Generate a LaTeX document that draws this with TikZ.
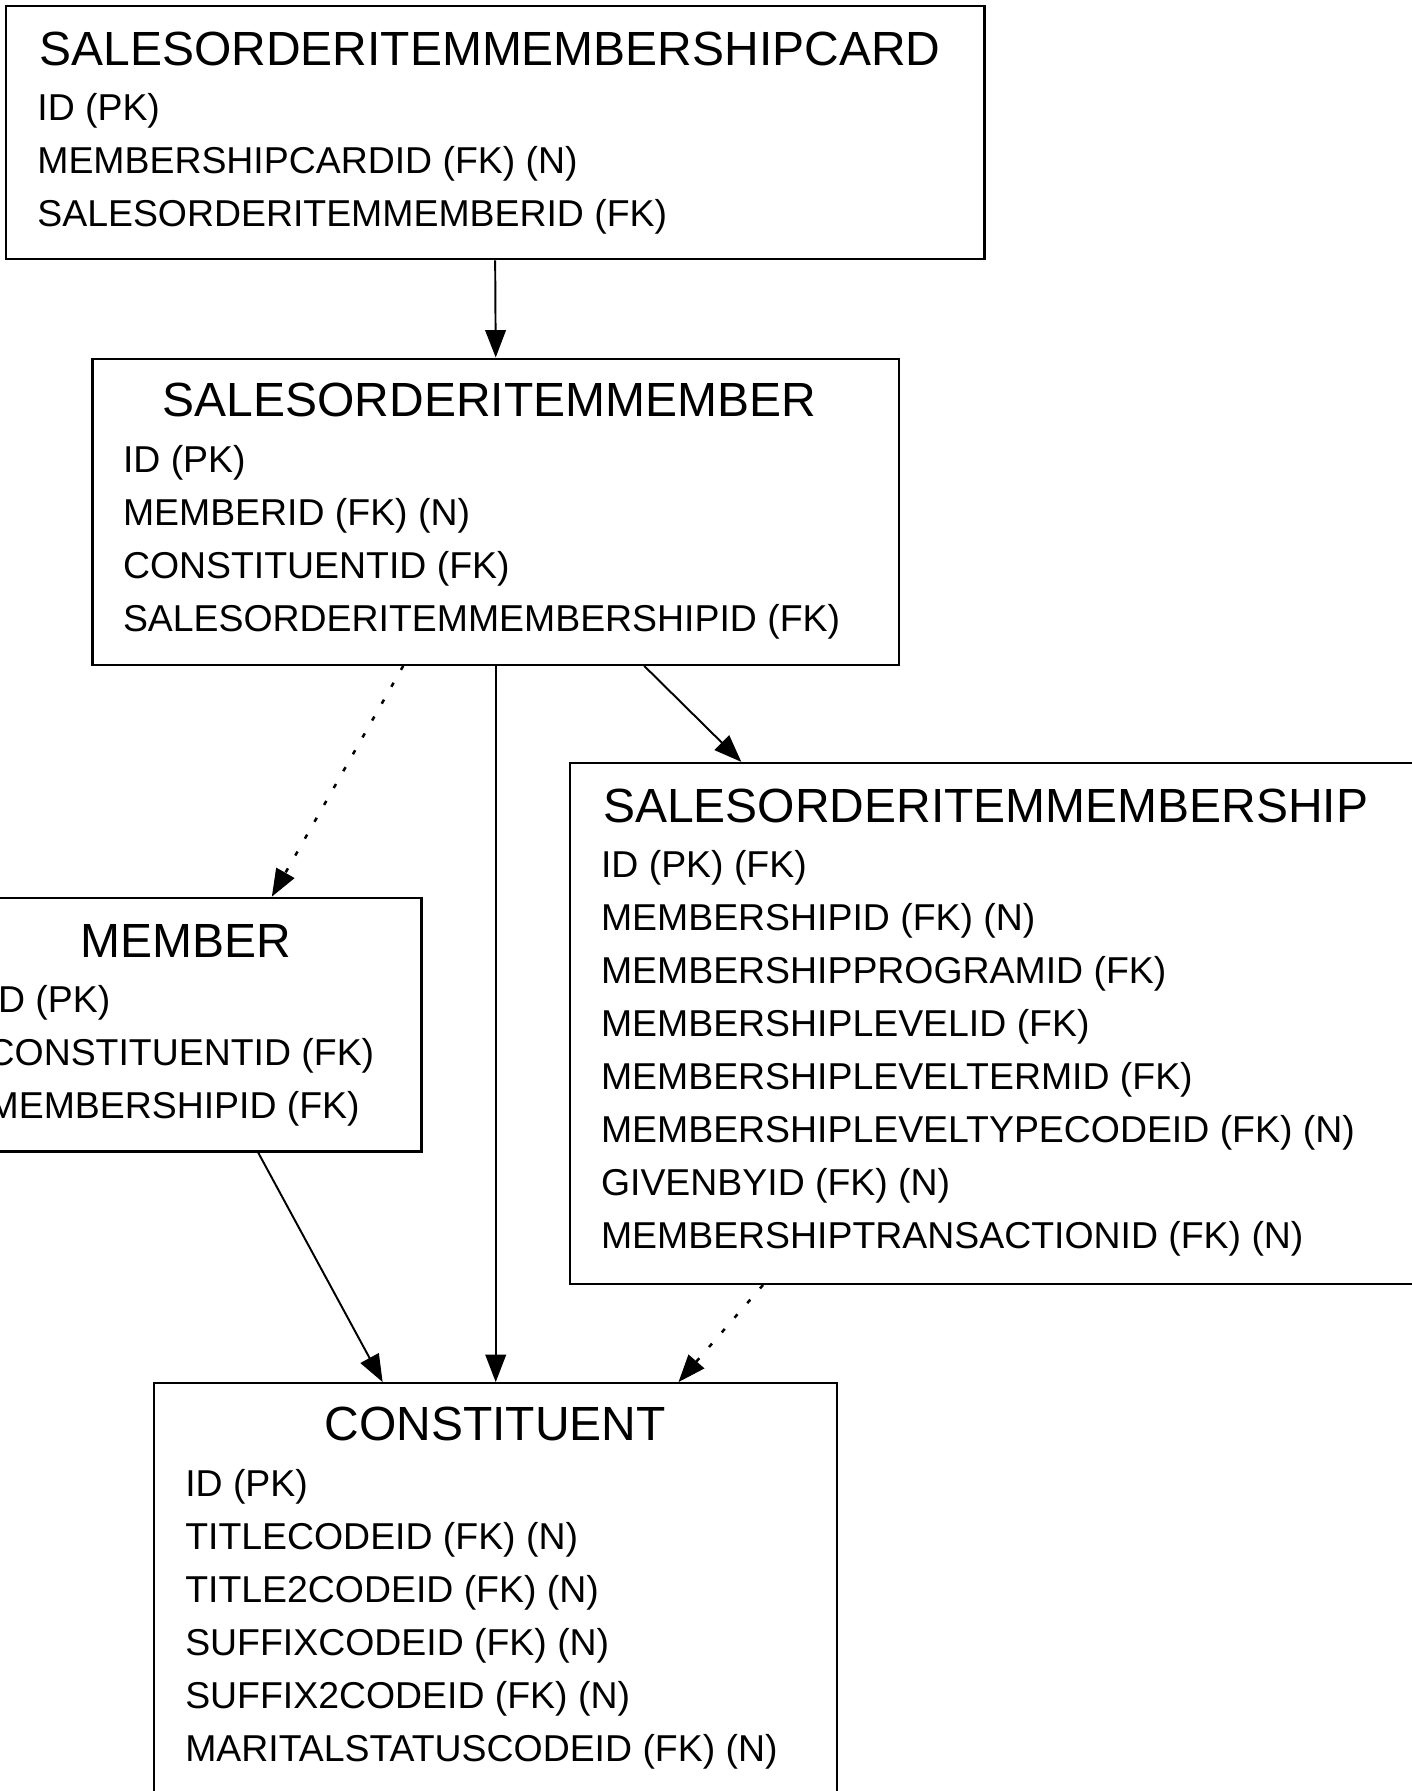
\documentclass[tikz,border=0pt]{standalone}
\usepackage{fontspec}
\setmainfont{Liberation Sans}
\usetikzlibrary{arrows.meta}

\tikzset{
  entity/.style={draw, line width=2pt, anchor=north west, inner sep=0pt},
  etitle/.style={anchor=base, inner sep=0pt, font=\fontsize{42}{50}\selectfont},
  efield/.style={anchor=base west, inner sep=0pt, font=\fontsize{32.75}{40}\selectfont},
  fk/.style={line width=1.7pt, -{Triangle[length=24pt, width=18pt]}},
  fkopt/.style={fk, line width=2.2pt, dash pattern=on 4pt off 13pt}
}

\begin{document}
\begin{tikzpicture}[x=1pt, y=-1pt]
\useasboundingbox (0,0) rectangle (1236,1568);

% tables
\node[entity, minimum width=857, minimum height=222] (card) at (4,4) {};
\node[etitle] (card-t) at ([xshift=-4.5pt, yshift=-53pt]card.north) {SALESORDERITEMMEMBERSHIPCARD};
\foreach \f [count=\i] in {{ID (PK)}, {MEMBERSHIPCARDID (FK) (N)}, {SALESORDERITEMMEMBERID (FK)}}
  \node[efield] (card-\i) at ([xshift=28.5pt, yshift={-55.1pt-46.4pt*\i}]card.north west) {\f};

\node[entity, minimum width=706, minimum height=268] (item) at (80,313) {};
\node[etitle] (item-t) at ([xshift=-5.5pt, yshift=-52pt]item.north) {SALESORDERITEMMEMBER};
\foreach \f [count=\i] in {{ID (PK)}, {MEMBERID (FK) (N)}, {CONSTITUENTID (FK)}, {SALESORDERITEMMEMBERSHIPID (FK)}}
  \node[efield] (item-\i) at ([xshift=27.5pt, yshift={-54.6pt-46.4pt*\i}]item.north west) {\f};

\node[entity, minimum width=738, minimum height=456] (ship) at (498,667) {};
\node[etitle] (ship-t) at ([xshift=-5pt, yshift=-53pt]ship.north) {SALESORDERITEMMEMBERSHIP};
\foreach \f [count=\i] in {{ID (PK) (FK)}, {MEMBERSHIPID (FK) (N)}, {MEMBERSHIPPROGRAMID (FK)},
    {MEMBERSHIPLEVELID (FK)}, {MEMBERSHIPLEVELTERMID (FK)}, {MEMBERSHIPLEVELTYPECODEID (FK) (N)},
    {GIVENBYID (FK) (N)}, {MEMBERSHIPTRANSACTIONID (FK) (N)}}
  \node[efield] (ship-\i) at ([xshift=28pt, yshift={-55.1pt-46.4pt*\i}]ship.north west) {\f};

\node[entity, minimum width=405, minimum height=222] (mem) at (-37,785) {};
\node[etitle] (mem-t) at ([xshift=-4pt, yshift=-53pt]mem.north) {MEMBER};
\foreach \f [count=\i] in {{ID (PK)}, {CONSTITUENTID (FK)}, {MEMBERSHIPID (FK)}}
  \node[efield] (mem-\i) at ([xshift=26pt, yshift={-55.1pt-46.4pt*\i}]mem.north west) {\f};

\node[entity, minimum width=598, minimum height=361] (cons) at (134,1210) {};
\node[etitle] (cons-t) at ([xshift=-0.5pt, yshift=-51pt]cons.north) {CONSTITUENT};
\foreach \f [count=\i] in {{ID (PK)}, {TITLECODEID (FK) (N)}, {TITLE2CODEID (FK) (N)},
    {SUFFIXCODEID (FK) (N)}, {SUFFIX2CODEID (FK) (N)}, {MARITALSTATUSCODEID (FK) (N)}}
  \node[efield] (cons-\i) at ([xshift=28pt, yshift={-53.6pt-46.4pt*\i}]cons.north west) {\f};

% relations
\draw[fk] (card.south) -- (item.north);
\draw[fkopt] ([xshift=-81pt]item.south) -- ([xshift=71.5pt]mem.north);
\draw[fk] (item.south) -- (cons.north);
\draw[fk] ([xshift=130pt]item.south) -- ([xshift=-219pt]ship.north);
\draw[fk] ([xshift=59.5pt]mem.south) -- ([xshift=-99pt]cons.north);
\draw[fkopt] ([xshift=-200pt]ship.south) -- ([xshift=160pt]cons.north);
\end{tikzpicture}
\end{document}
